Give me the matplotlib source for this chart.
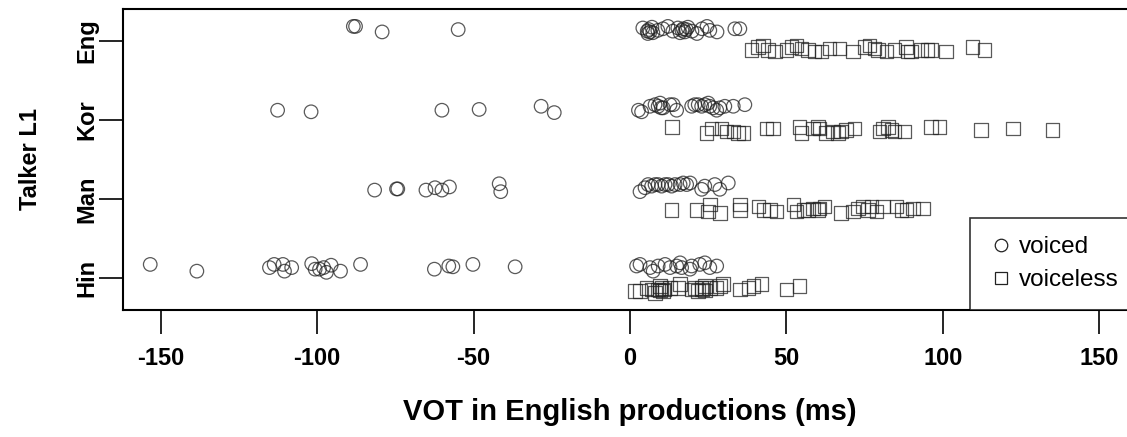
import numpy as np
import matplotlib
matplotlib.use('Agg')
import matplotlib.pyplot as plt
from matplotlib.lines import Line2D

plt.rcParams['font.family'] = ['Liberation Sans', 'DejaVu Sans']

# 类别（从下到上）
talkers = ['Hin', 'Man', 'Kor', 'Eng']
x_ticks = [-150, -100, -50, 0, 50, 100, 150]

# 每组：VOT 值 与 纵向抖动（相对类别位置）
eng_voiced_vot = [-88.4, -87.7, -79.2, -54.9,
                  4.1, 5.5, 5.7, 6.0, 6.4, 7.0, 7.3, 8.9, 10.5, 12.1, 13.7, 15.3, 16.0,
                  16.6, 17.0, 17.5, 18.0, 18.5, 19.8, 21.4, 23.0, 24.6, 25.5, 27.8, 33.5, 35.1]
eng_voiced_jit = [0.18, 0.18, 0.11, 0.14,
                  0.16, 0.12, 0.09, 0.14, 0.11, 0.17, 0.10, 0.13, 0.15, 0.18, 0.12, 0.16, 0.10,
                  0.13, 0.15, 0.11, 0.14, 0.17, 0.12, 0.09, 0.15, 0.18, 0.13, 0.11, 0.15, 0.15]
eng_voiceless_vot = [38.8, 40.9, 42.5, 44.1, 46.3, 50.0, 51.6, 53.2, 54.8, 56.9, 59.0, 61.2,
                     63.8, 67.0, 71.2, 75.0, 76.6, 78.1, 79.2, 81.9, 84.5, 88.2, 88.7, 89.8,
                     93.0, 95.1, 96.2, 101.0, 109.5, 113.3]
eng_voiceless_jit = [-0.12, -0.08, -0.06, -0.12, -0.14, -0.12, -0.08, -0.06, -0.10, -0.12, -0.14, -0.14,
                     -0.10, -0.10, -0.14, -0.08, -0.06, -0.10, -0.12, -0.14, -0.12, -0.08, -0.14, -0.14,
                     -0.12, -0.12, -0.12, -0.14, -0.08, -0.12]

kor_voiced_vot = [-112.6, -101.9, -60.1, -48.2, -28.4, -24.2,
                  2.7, 3.7, 6.4, 8.0, 9.0, 9.6, 10.0, 10.6, 12.8, 13.8, 14.9, 19.7, 20.7, 21.8,
                  22.9, 23.9, 25.0, 25.5, 26.6, 27.7, 28.7, 30.3, 33.0, 36.7]
kor_voiced_jit = [0.12, 0.10, 0.12, 0.13, 0.17, 0.09,
                  0.12, 0.10, 0.17, 0.19, 0.17, 0.21, 0.15, 0.15, 0.19, 0.19, 0.12, 0.17, 0.19, 0.19,
                  0.17, 0.19, 0.21, 0.17, 0.15, 0.12, 0.15, 0.17, 0.17, 0.19]
kor_voiceless_vot = [13.5, 24.5, 26.1, 29.2, 30.8, 33.0, 34.5, 36.2, 43.6, 45.7, 54.2, 54.8,
                     58.5, 60.1, 60.6, 62.7, 64.9, 66.4, 67.5, 69.1, 71.8, 79.7, 80.8, 82.4,
                     83.5, 84.5, 87.7, 96.2, 98.9, 112.2, 122.3, 135.0]
kor_voiceless_jit = [-0.09, -0.17, -0.11, -0.11, -0.15, -0.15, -0.17, -0.17, -0.11, -0.11, -0.09, -0.17,
                     -0.11, -0.09, -0.11, -0.17, -0.15, -0.17, -0.15, -0.13, -0.11, -0.15, -0.11, -0.09,
                     -0.13, -0.15, -0.15, -0.09, -0.09, -0.13, -0.11, -0.13]

man_voiced_vot = [-81.6, -74.6, -74.2, -65.2, -62.3, -60.1, -57.7, -41.8, -41.3,
                  3.2, 4.8, 5.8, 6.9, 8.0, 9.0, 10.1, 11.2, 12.2, 13.3, 14.4, 16.0, 17.0,
                  18.1, 19.2, 22.9, 23.9, 27.1, 28.7, 31.4]
man_voiced_jit = [0.11, 0.125, 0.125, 0.11, 0.14, 0.11, 0.15, 0.19, 0.09,
                  0.09, 0.14, 0.18, 0.16, 0.18, 0.18, 0.16, 0.18, 0.18, 0.16, 0.18, 0.18, 0.20,
                  0.18, 0.20, 0.12, 0.16, 0.18, 0.12, 0.20]
man_voiceless_vot = [13.3, 21.3, 25.0, 25.5, 28.7, 35.1, 35.1, 41.0, 42.6, 44.7, 46.8, 52.2,
                     53.2, 55.4, 56.9, 58.5, 60.1, 60.6, 62.2, 67.5, 71.2, 72.8, 74.4, 76.0,
                     77.1, 78.7, 80.8, 85.1, 86.7, 88.3, 90.4, 93.6]
man_voiceless_jit = [-0.14, -0.14, -0.16, -0.07, -0.18, -0.07, -0.14, -0.10, -0.14, -0.14, -0.16, -0.07,
                     -0.16, -0.14, -0.14, -0.12, -0.14, -0.12, -0.10, -0.18, -0.16, -0.12, -0.10, -0.14,
                     -0.10, -0.16, -0.10, -0.10, -0.14, -0.14, -0.12, -0.12]

hin_voiced_vot = [-153.3, -138.4, -115.2, -113.7, -110.9, -110.4, -108.1, -101.7, -100.6, -99.2,
                  -97.9, -97.0, -95.5, -92.5, -86.1, -62.5, -57.9, -56.6, -50.2, -36.7,
                  2.1, 3.2, 6.4, 7.4, 9.0, 11.2, 12.8, 14.9, 16.0, 16.5, 19.2, 19.7, 22.3,
                  23.9, 25.5, 27.7]
hin_voiced_jit = [0.17, 0.085, 0.13, 0.17, 0.17, 0.085, 0.13, 0.18, 0.11, 0.11,
                  0.13, 0.07, 0.16, 0.085, 0.17, 0.11, 0.15, 0.14, 0.17, 0.14,
                  0.15, 0.17, 0.13, 0.085, 0.15, 0.17, 0.13, 0.15, 0.19, 0.13, 0.11, 0.15, 0.17,
                  0.19, 0.13, 0.15]
hin_voiceless_vot = [1.6, 3.2, 5.3, 6.9, 8.0, 9.0, 9.5, 9.6, 10.0, 10.6, 11.0, 12.8, 15.4, 16.0,
                     19.7, 20.7, 21.8, 22.9, 23.0, 23.9, 24.0, 25.5, 27.7, 28.7, 29.8, 35.1,
                     37.8, 39.4, 42.0, 50.0, 54.2]
hin_voiceless_jit = [-0.165, -0.165, -0.125, -0.145, -0.19, -0.145, -0.16, -0.10, -0.125, -0.165, -0.145, -0.125, -0.125, -0.08,
                     -0.145, -0.125, -0.165, -0.125, -0.145, -0.10, -0.16, -0.125, -0.125, -0.10, -0.08, -0.145,
                     -0.125, -0.10, -0.08, -0.145, -0.10]

voiced = [hin_voiced_vot, man_voiced_vot, kor_voiced_vot, eng_voiced_vot]
voiced_j = [hin_voiced_jit, man_voiced_jit, kor_voiced_jit, eng_voiced_jit]
voiceless = [hin_voiceless_vot, man_voiceless_vot, kor_voiceless_vot, eng_voiceless_vot]
voiceless_j = [hin_voiceless_jit, man_voiceless_jit, kor_voiceless_jit, eng_voiceless_jit]

fig = plt.figure(figsize=(11.27, 4.37), dpi=100)
ax = fig.add_axes([123/1127, 1 - 309.5/437, (1137 - 123)/1127, (309.5 - 9)/437])

mk = dict(facecolors='none', edgecolors='#222222', linewidths=0.9, alpha=0.75, s=95)
for i in range(4):
    ax.scatter(voiced[i], np.array(voiced_j[i]) + i + 1, marker='o', **mk)
    ax.scatter(voiceless[i], np.array(voiceless_j[i]) + i + 1, marker='s', **mk)

ax.set_xlim(-162, 162)
ax.set_ylim(0.6, 4.4)
ax.set_xticks(x_ticks)
ax.set_xticklabels([str(t) for t in x_ticks], fontsize=17, fontweight='bold')
ax.set_yticks([1, 2, 3, 4])
ax.set_yticklabels(talkers, fontsize=17, fontweight='bold', rotation=90, va='center')
ax.tick_params(axis='x', length=17, width=1.2, pad=10)
ax.tick_params(axis='y', length=17, width=1.2, pad=1)
for sp in ax.spines.values():
    sp.set_linewidth(1.5)

ax.set_xlabel('VOT in English productions (ms)', fontsize=21, fontweight='bold', labelpad=20)
ax.set_ylabel('Talker L1', fontsize=17, fontweight='bold', labelpad=24)

handles = [Line2D([], [], marker='o', ls='none', mfc='none', mec='#222222', ms=9, mew=0.9),
           Line2D([], [], marker='s', ls='none', mfc='none', mec='#222222', ms=9, mew=0.9)]
leg = ax.legend(handles, ['voiced', 'voiceless'], loc='lower right', borderaxespad=0,
                fontsize=17.5, frameon=True, fancybox=False, handletextpad=0.25,
                handlelength=1.0, borderpad=0.75, labelspacing=0.45)
leg.get_frame().set_edgecolor('black')
leg.get_frame().set_linewidth(1.2)

fig.savefig('out.png', dpi=100)
